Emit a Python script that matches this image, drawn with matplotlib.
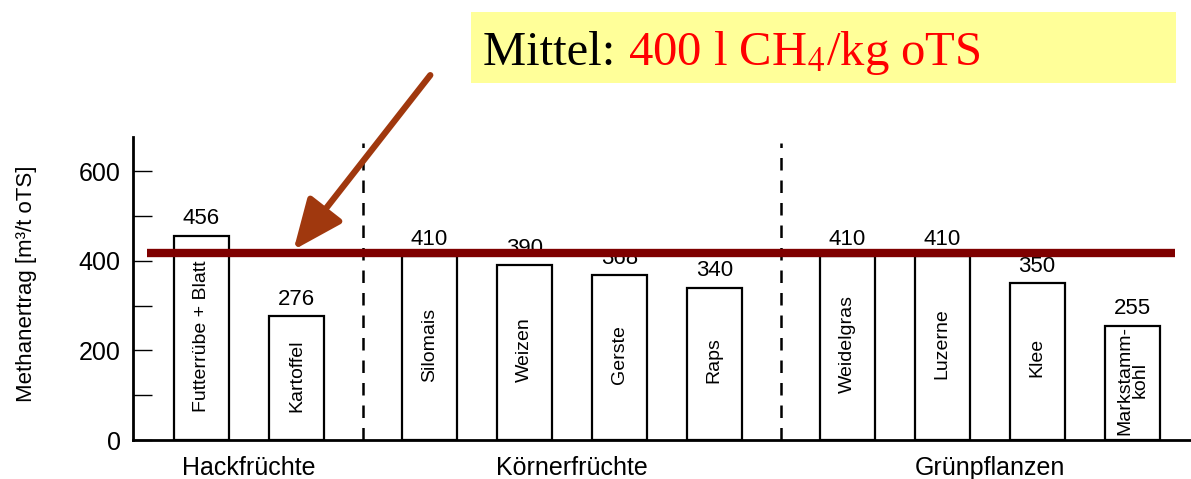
import matplotlib
matplotlib.use('Agg')
import matplotlib.pyplot as plt
from matplotlib.patches import Rectangle

plt.rcParams['font.family'] = ['Liberation Sans', 'DejaVu Sans']
plt.rcParams['mathtext.fontset'] = 'stix'

# data
groups = ['Hackfrüchte', 'Körnerfrüchte', 'Grünpflanzen']
crops = [['Futterrübe + Blatt', 'Kartoffel'],
         ['Silomais', 'Weizen', 'Gerste', 'Raps'],
         ['Weidelgras', 'Luzerne', 'Klee', 'Markstamm-\nkohl']]
yields = [[456, 276],
          [410, 390, 368, 340],
          [410, 410, 350, 255]]
mean_line = 417

# positions: one unit per bar, extra gap between groups
xs = []
pos = 0.0
for g in crops:
    xs.append([pos + i for i in range(len(g))])
    pos += len(g) + 0.4
# where the rotated names start inside the bars
label_base = [[62, 62], [130, 130, 126, 128], [105, 135, 140, 12]]

fig = plt.figure(figsize=(11.91, 4.79), dpi=100)
ax = fig.add_axes([0.1117, 0.0814, 0.8883, 0.6326])

for gi, g in enumerate(crops):
    for x, name, v, lb in zip(xs[gi], g, yields[gi], label_base[gi]):
        ax.bar(x, v, width=0.58, color='white', edgecolor='black', linewidth=1.6, zorder=2)
        ax.text(x, v + 14, str(v), ha='center', va='bottom', fontsize=16, zorder=3)
        ax.text(x, lb, name, rotation=90, ha='center', va='bottom', fontsize=14,
                linespacing=0.85, zorder=3)
    ax.text(sum(xs[gi]) / len(xs[gi]), -36, groups[gi], ha='center', va='top', fontsize=18)

# dashed separators between groups
for gi in range(len(crops) - 1):
    sep = (xs[gi][-1] + xs[gi + 1][0]) / 2
    ax.axvline(sep, ymax=0.98, color='black', lw=1.8, ls=(0, (5, 4)), zorder=1)

ax.plot([-0.57, 10.25], [mean_line, mean_line], color='#7f0000', lw=6, zorder=4,
        solid_capstyle='butt')

ax.set_xlim(-0.72, 10.42)
ax.set_ylim(0, 676)
ax.set_yticks([0, 200, 400, 600])
ax.set_yticks([100, 300, 500], minor=True)
ax.tick_params(axis='y', which='both', direction='in', length=14, width=1, pad=9,
               labelsize=18)
ax.tick_params(axis='x', bottom=False, labelbottom=False)
ax.spines['top'].set_visible(False)
ax.spines['right'].set_visible(False)
ax.spines['left'].set_linewidth(2)
ax.spines['bottom'].set_linewidth(2)
ax.set_ylabel('Methanertrag [m³/t oTS]', fontsize=16)
ax.yaxis.set_label_coords(-0.091, 0.516)

ax.annotate('', xy=(0.97, 424), xytext=(2.41, 814), annotation_clip=False,
            arrowprops=dict(arrowstyle='-|>,head_length=1.4,head_width=0.6',
                            color='#a0380e', lw=4.5, mutation_scale=22, shrinkA=0, shrinkB=0),
            zorder=5)

# yellow note box
fig.patches.append(Rectangle((471 / 1191, 1 - 83 / 479), 705 / 1191, 71 / 479,
                             transform=fig.transFigure, facecolor='#ffff99',
                             edgecolor='none', zorder=0))
t1 = fig.text(483 / 1191, 1 - 65 / 479, 'Mittel: ', fontsize=35, color='black',
              family='Liberation Serif', va='baseline')
fig.canvas.draw()
bb = t1.get_window_extent()
fig.text(bb.x1 / fig.bbox.width, 1 - 65 / 479, r'400 l CH$_4$/kg oTS', fontsize=35,
         color='red', family='Liberation Serif', va='baseline')

fig.savefig('out.png', dpi=100)
